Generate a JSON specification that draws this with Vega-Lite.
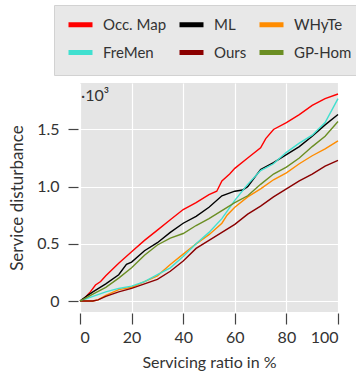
{
  "$schema": "https://vega.github.io/schema/vega-lite/v6.json",
  "autosize": "none",
  "width": 258,
  "height": 229,
  "padding": {"left": 80, "top": 83, "right": 18, "bottom": 65},
  "background": "white",
  "config": {
    "font": "Lato",
    "view": {"fill": "#e5e5e5", "stroke": null},
    "axis": {"gridColor": "white", "gridWidth": 1.2, "domain": false, "tickColor": "#444", "labelColor": "#333", "titleColor": "#333", "labelFontSize": 16, "titleFontSize": 16, "titleFontWeight": "normal", "labelFont": "Lato", "titleFont": "Lato"}
  },
  "datasets": {
    "series": [
      {"s": "Occ. Map", "x": 0, "y": 0}, {"s": "Occ. Map", "x": 2, "y": 0.03}, {"s": "Occ. Map", "x": 4, "y": 0.08}, {"s": "Occ. Map", "x": 6, "y": 0.14}, {"s": "Occ. Map", "x": 8, "y": 0.17}, {"s": "Occ. Map", "x": 10, "y": 0.22}, {"s": "Occ. Map", "x": 15, "y": 0.33}, {"s": "Occ. Map", "x": 20, "y": 0.43}, {"s": "Occ. Map", "x": 25, "y": 0.53}, {"s": "Occ. Map", "x": 30, "y": 0.62}, {"s": "Occ. Map", "x": 35, "y": 0.71}, {"s": "Occ. Map", "x": 40, "y": 0.8}, {"s": "Occ. Map", "x": 45, "y": 0.86}, {"s": "Occ. Map", "x": 50, "y": 0.93}, {"s": "Occ. Map", "x": 53, "y": 0.96}, {"s": "Occ. Map", "x": 55, "y": 1.05}, {"s": "Occ. Map", "x": 58, "y": 1.11}, {"s": "Occ. Map", "x": 60, "y": 1.16}, {"s": "Occ. Map", "x": 65, "y": 1.25}, {"s": "Occ. Map", "x": 70, "y": 1.34}, {"s": "Occ. Map", "x": 72, "y": 1.42}, {"s": "Occ. Map", "x": 75, "y": 1.5}, {"s": "Occ. Map", "x": 80, "y": 1.56}, {"s": "Occ. Map", "x": 85, "y": 1.63}, {"s": "Occ. Map", "x": 90, "y": 1.71}, {"s": "Occ. Map", "x": 95, "y": 1.77}, {"s": "Occ. Map", "x": 100, "y": 1.81},
      {"s": "ML", "x": 0, "y": 0}, {"s": "ML", "x": 3, "y": 0.05}, {"s": "ML", "x": 5, "y": 0.08}, {"s": "ML", "x": 10, "y": 0.15}, {"s": "ML", "x": 15, "y": 0.23}, {"s": "ML", "x": 18, "y": 0.32}, {"s": "ML", "x": 20, "y": 0.34}, {"s": "ML", "x": 25, "y": 0.44}, {"s": "ML", "x": 30, "y": 0.51}, {"s": "ML", "x": 35, "y": 0.6}, {"s": "ML", "x": 40, "y": 0.68}, {"s": "ML", "x": 45, "y": 0.74}, {"s": "ML", "x": 50, "y": 0.82}, {"s": "ML", "x": 55, "y": 0.92}, {"s": "ML", "x": 60, "y": 0.96}, {"s": "ML", "x": 63, "y": 0.97}, {"s": "ML", "x": 65, "y": 1.0}, {"s": "ML", "x": 68, "y": 1.09}, {"s": "ML", "x": 70, "y": 1.15}, {"s": "ML", "x": 75, "y": 1.21}, {"s": "ML", "x": 80, "y": 1.28}, {"s": "ML", "x": 85, "y": 1.35}, {"s": "ML", "x": 90, "y": 1.44}, {"s": "ML", "x": 95, "y": 1.54}, {"s": "ML", "x": 100, "y": 1.63},
      {"s": "WHyTe", "x": 0, "y": 0}, {"s": "WHyTe", "x": 5, "y": 0}, {"s": "WHyTe", "x": 7, "y": 0.01}, {"s": "WHyTe", "x": 10, "y": 0.05}, {"s": "WHyTe", "x": 15, "y": 0.1}, {"s": "WHyTe", "x": 20, "y": 0.12}, {"s": "WHyTe", "x": 25, "y": 0.17}, {"s": "WHyTe", "x": 30, "y": 0.22}, {"s": "WHyTe", "x": 35, "y": 0.32}, {"s": "WHyTe", "x": 40, "y": 0.41}, {"s": "WHyTe", "x": 45, "y": 0.5}, {"s": "WHyTe", "x": 50, "y": 0.58}, {"s": "WHyTe", "x": 55, "y": 0.68}, {"s": "WHyTe", "x": 57, "y": 0.75}, {"s": "WHyTe", "x": 60, "y": 0.82}, {"s": "WHyTe", "x": 65, "y": 0.91}, {"s": "WHyTe", "x": 70, "y": 0.98}, {"s": "WHyTe", "x": 75, "y": 1.06}, {"s": "WHyTe", "x": 80, "y": 1.12}, {"s": "WHyTe", "x": 85, "y": 1.2}, {"s": "WHyTe", "x": 90, "y": 1.27}, {"s": "WHyTe", "x": 95, "y": 1.33}, {"s": "WHyTe", "x": 100, "y": 1.4},
      {"s": "FreMen", "x": 0, "y": 0}, {"s": "FreMen", "x": 5, "y": 0.04}, {"s": "FreMen", "x": 10, "y": 0.08}, {"s": "FreMen", "x": 15, "y": 0.11}, {"s": "FreMen", "x": 20, "y": 0.13}, {"s": "FreMen", "x": 25, "y": 0.17}, {"s": "FreMen", "x": 30, "y": 0.23}, {"s": "FreMen", "x": 35, "y": 0.29}, {"s": "FreMen", "x": 40, "y": 0.39}, {"s": "FreMen", "x": 45, "y": 0.5}, {"s": "FreMen", "x": 50, "y": 0.6}, {"s": "FreMen", "x": 55, "y": 0.72}, {"s": "FreMen", "x": 60, "y": 0.88}, {"s": "FreMen", "x": 65, "y": 1.02}, {"s": "FreMen", "x": 70, "y": 1.14}, {"s": "FreMen", "x": 75, "y": 1.2}, {"s": "FreMen", "x": 80, "y": 1.3}, {"s": "FreMen", "x": 85, "y": 1.38}, {"s": "FreMen", "x": 90, "y": 1.45}, {"s": "FreMen", "x": 95, "y": 1.56}, {"s": "FreMen", "x": 100, "y": 1.77},
      {"s": "Ours", "x": 0, "y": 0}, {"s": "Ours", "x": 5, "y": 0}, {"s": "Ours", "x": 7, "y": 0.01}, {"s": "Ours", "x": 10, "y": 0.04}, {"s": "Ours", "x": 15, "y": 0.08}, {"s": "Ours", "x": 20, "y": 0.11}, {"s": "Ours", "x": 25, "y": 0.15}, {"s": "Ours", "x": 30, "y": 0.19}, {"s": "Ours", "x": 35, "y": 0.26}, {"s": "Ours", "x": 40, "y": 0.35}, {"s": "Ours", "x": 45, "y": 0.46}, {"s": "Ours", "x": 50, "y": 0.53}, {"s": "Ours", "x": 55, "y": 0.6}, {"s": "Ours", "x": 60, "y": 0.67}, {"s": "Ours", "x": 65, "y": 0.76}, {"s": "Ours", "x": 70, "y": 0.83}, {"s": "Ours", "x": 75, "y": 0.91}, {"s": "Ours", "x": 80, "y": 0.98}, {"s": "Ours", "x": 85, "y": 1.05}, {"s": "Ours", "x": 90, "y": 1.11}, {"s": "Ours", "x": 95, "y": 1.18}, {"s": "Ours", "x": 100, "y": 1.23},
      {"s": "GP-Hom", "x": 0, "y": 0}, {"s": "GP-Hom", "x": 5, "y": 0.06}, {"s": "GP-Hom", "x": 10, "y": 0.12}, {"s": "GP-Hom", "x": 15, "y": 0.2}, {"s": "GP-Hom", "x": 20, "y": 0.29}, {"s": "GP-Hom", "x": 25, "y": 0.4}, {"s": "GP-Hom", "x": 30, "y": 0.49}, {"s": "GP-Hom", "x": 35, "y": 0.55}, {"s": "GP-Hom", "x": 40, "y": 0.59}, {"s": "GP-Hom", "x": 45, "y": 0.66}, {"s": "GP-Hom", "x": 50, "y": 0.72}, {"s": "GP-Hom", "x": 55, "y": 0.79}, {"s": "GP-Hom", "x": 60, "y": 0.86}, {"s": "GP-Hom", "x": 65, "y": 0.92}, {"s": "GP-Hom", "x": 70, "y": 1.02}, {"s": "GP-Hom", "x": 75, "y": 1.11}, {"s": "GP-Hom", "x": 80, "y": 1.17}, {"s": "GP-Hom", "x": 85, "y": 1.25}, {"s": "GP-Hom", "x": 90, "y": 1.35}, {"s": "GP-Hom", "x": 95, "y": 1.44}, {"s": "GP-Hom", "x": 100, "y": 1.57}
    ],
    "note": [{"label": "·10³", "x": 0, "y": 1.79}]
  },
  "encoding": {
    "x": {"field": "x", "type": "quantitative", "scale": {"domain": [0, 100], "nice": false}, "axis": {"values": [0, 20, 40, 60, 80, 100], "title": "Servicing ratio in %", "tickSize": 11, "offset": 1, "labelPadding": 5, "titlePadding": 9, "tickWidth": 1.2}},
    "y": {"field": "y", "type": "quantitative", "scale": {"domain": [-0.096, 1.906], "nice": false, "zero": false}, "axis": {"tickCount": 4, "labelExpr": "datum.value == 0 ? '0' : datum.label", "title": "Service disturbance", "titleFontSize": 17, "tickSize": 10, "offset": 2, "labelPadding": 9, "titlePadding": 10, "tickWidth": 1.2}}
  },
  "layer": [
    {
      "data": {"name": "series"},
      "mark": {"type": "line", "strokeWidth": 1.4},
      "encoding": {
        "color": {
          "field": "s", "type": "nominal",
          "scale": {"domain": ["Occ. Map", "FreMen", "ML", "Ours", "WHyTe", "GP-Hom"], "range": ["#ff0000", "#40e0d0", "#000000", "#8b0000", "#ff8c00", "#6b8e23"]},
          "legend": {"title": null, "orient": "none", "legendX": -26, "legendY": -78, "columns": 3, "gridAlign": "each", "symbolType": "M-1,0H3.8", "symbolSize": 100, "symbolStrokeWidth": 5, "labelFontSize": 15, "labelColor": "#333", "labelFont": "Lato", "fillColor": "#e8e8e8", "strokeColor": "#d2d2d2", "padding": 12, "rowPadding": 7, "columnPadding": 2, "labelOffset": 22}
        }
      }
    },
    {
      "data": {"name": "note"},
      "mark": {"type": "text", "align": "left", "baseline": "middle", "fontSize": 16, "color": "#333", "dx": 1},
      "encoding": {
        "text": {"field": "label"}
      }
    }
  ]
}
